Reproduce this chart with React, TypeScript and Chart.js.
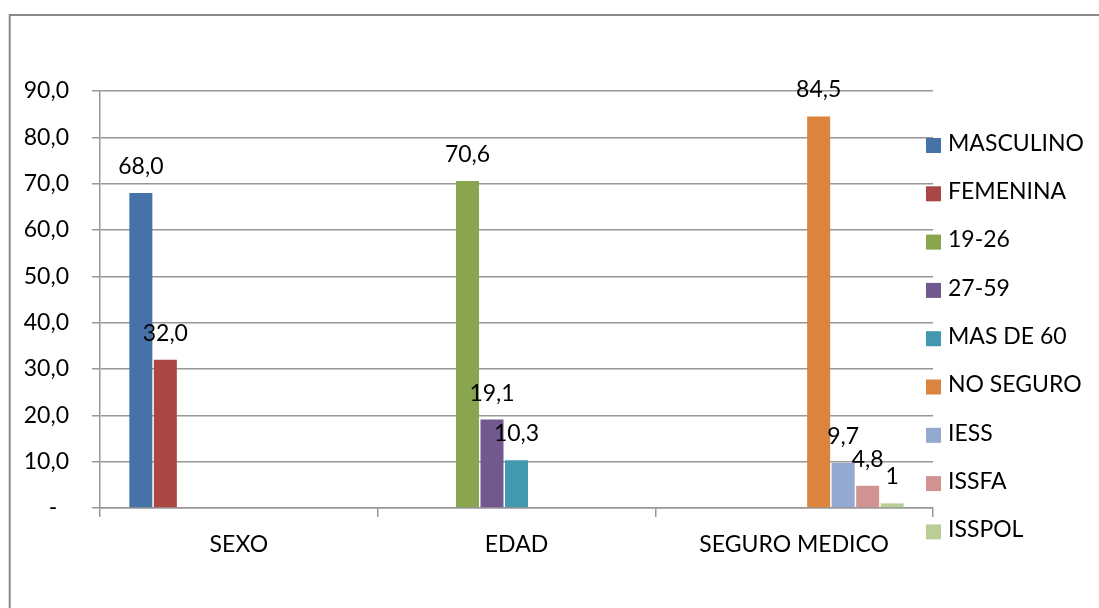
import React, { useEffect, useRef } from 'react';
import { Chart, registerables } from 'chart.js';

Chart.register(...registerables);

const categories = ['SEXO', 'EDAD', 'SEGURO MEDICO'];
const seriesNames = ['MASCULINO', 'FEMENINA', '19-26', '27-59', 'MAS DE 60', 'NO SEGURO', 'IESS', 'ISSFA', 'ISSPOL'];
const seriesValues = [68.0, 32.0, 70.6, 19.1, 10.3, 84.5, 9.7, 4.8, 1];
const seriesCategory = [0, 0, 1, 1, 1, 2, 2, 2, 2];
const seriesDecimals = [1, 1, 1, 1, 1, 1, 1, 1, 0];
const seriesColors = ['#4572A7', '#AA4643', '#89A54E', '#71588F', '#4198AF', '#DB843D', '#93A9CF', '#D19392', '#B9CD96'];
const yMin = 0;
const yMax = 90;
const yStep = 10;

const FONT = 'Lato';
const GRID = '#979797';

const fmt = (v: number, d: number) => v.toFixed(d).replace('.', ',');

const framePlugin = {
  id: 'frame',
  beforeDraw(chart: any) {
    const ctx = chart.ctx;
    ctx.save();
    ctx.strokeStyle = '#8a8a8a';
    ctx.lineWidth = 2;
    ctx.beginPath();
    ctx.moveTo(9.7, chart.height);
    ctx.lineTo(9.7, 15);
    ctx.lineTo(chart.width, 15);
    ctx.stroke();
    ctx.restore();
  },
};

const valueLabelPlugin = {
  id: 'valueLabels',
  afterDatasetsDraw(chart: any) {
    const ctx = chart.ctx;
    ctx.save();
    ctx.font = `23px ${FONT}`;
    ctx.fillStyle = '#000';
    ctx.textAlign = 'center';
    ctx.textBaseline = 'alphabetic';
    chart.data.datasets.forEach((ds: any, i: number) => {
      const meta = chart.getDatasetMeta(i);
      meta.data.forEach((el: any, j: number) => {
        const v = ds.data[j];
        if (v === null || v === undefined) return;
        ctx.fillText(fmt(v, seriesDecimals[i]), el.x, el.y - 19);
      });
    });
    ctx.restore();
  },
};

const legendPlugin = {
  id: 'sideLegend',
  afterDraw(chart: any) {
    const ctx = chart.ctx;
    const area = chart.chartArea;
    ctx.save();
    ctx.font = `23px ${FONT}`;
    ctx.textAlign = 'left';
    ctx.textBaseline = 'alphabetic';
    chart.data.datasets.forEach((ds: any, i: number) => {
      const cy = area.top + 54.5 + i * 48.3;
      ctx.fillStyle = ds.backgroundColor;
      ctx.fillRect(area.right - 7, cy - 7.5, 15, 15);
      ctx.fillStyle = '#000';
      ctx.fillText(ds.label, area.right + 15, cy + 5.3);
    });
    ctx.restore();
  },
};

export default function App() {
  const ref = useRef<HTMLCanvasElement | null>(null);

  useEffect(() => {
    if (!ref.current) return;
    const datasets = seriesNames.map((name, i) => ({
      label: name,
      data: categories.map((_, ci) => (ci === seriesCategory[i] ? seriesValues[i] : null)),
      backgroundColor: seriesColors[i],
      borderWidth: 0,
      categoryPercentage: 0.794,
      barPercentage: 0.939,
    }));
    const chart = new Chart(ref.current, {
      type: 'bar',
      data: { labels: categories, datasets },
      options: {
        responsive: false,
        animation: false,
        layout: { padding: { left: 0, top: 91, right: 166, bottom: 0 } },
        plugins: {
          legend: { display: false },
          tooltip: { enabled: false },
        },
        scales: {
          x: {
            grid: {
              display: true,
              drawOnChartArea: false,
              drawTicks: true,
              tickLength: 9,
              offset: true,
              color: GRID,
              lineWidth: 1.5,
            },
            border: { display: true, color: GRID, width: 1.5 },
            ticks: {
              color: '#000',
              font: { family: FONT, size: 23 },
              padding: 14,
              maxRotation: 0,
              autoSkip: false,
            },
            afterFit(scale: any) {
              scale.height = 100;
            },
          },
          y: {
            min: yMin,
            max: yMax,
            grid: {
              color: GRID,
              lineWidth: 1.5,
              drawTicks: true,
              tickLength: 8,
            },
            border: { display: true, color: GRID, width: 1.5 },
            ticks: {
              stepSize: yStep,
              color: '#000',
              font: { family: FONT, size: 23 },
              padding: 23,
              callback: (v: any) => (Number(v) === 0 ? '-\u00A0\u00A0' : fmt(Number(v), 1)),
            },
            afterFit(scale: any) {
              scale.width = 100;
            },
          },
        },
      },
      plugins: [framePlugin, valueLabelPlugin, legendPlugin],
    });
    return () => chart.destroy();
  }, []);

  return (
    <div style={{ position: 'absolute', left: 0, top: 0, width: 1099, height: 608, background: '#fff' }}>
      <canvas ref={ref} width={1099} height={608} style={{ display: 'block' }} />
    </div>
  );
}
